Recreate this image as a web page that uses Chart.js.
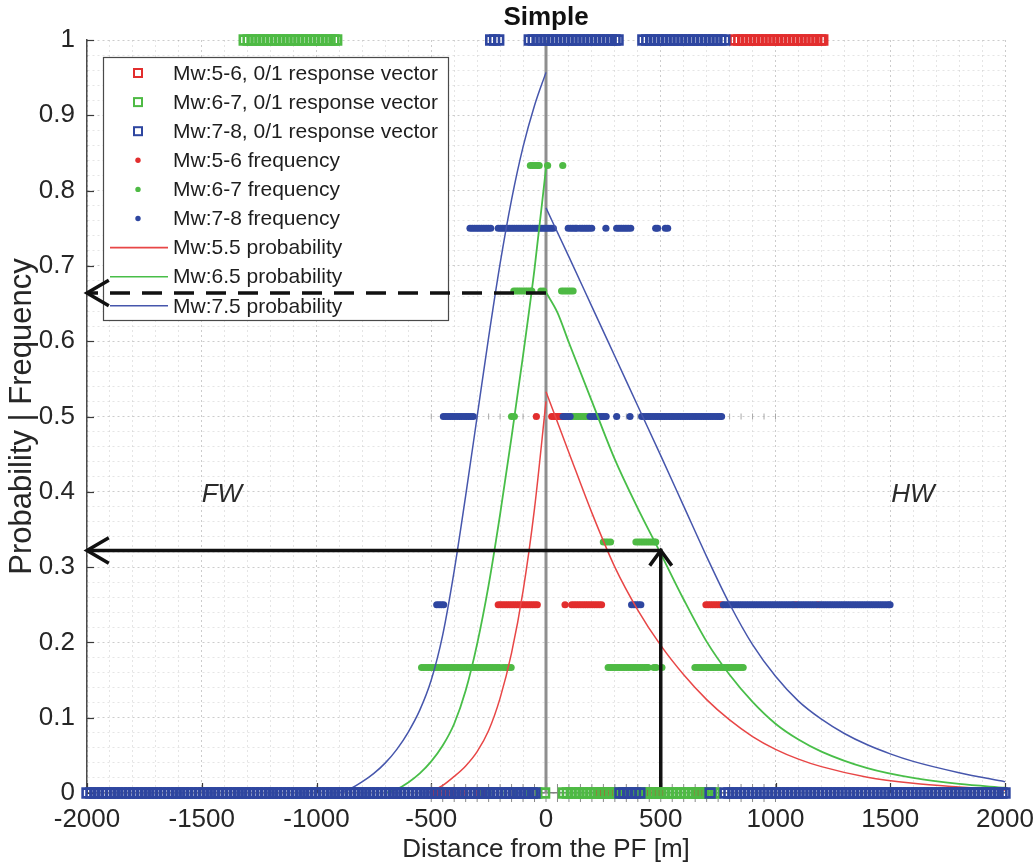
<!DOCTYPE html>
<html>
<head>
<meta charset="utf-8">
<title>Simple</title>
<script src="https://cdn.jsdelivr.net/npm/chart.js@4.4.1/dist/chart.umd.min.js"></script>
<style>
html,body{margin:0;padding:0;background:#fff;}
canvas{display:block;}
</style>
</head>
<body>
<canvas id="c" width="1035" height="865"></canvas>
<script>
// ---------------- DATA ----------------
const xTickValues = [-2000, -1500, -1000, -500, 0, 500, 1000, 1500, 2000];
const yTickValues = [0, 0.1, 0.2, 0.3, 0.4, 0.5, 0.6, 0.7, 0.8, 0.9, 1];

const legendLabels = [
  'Mw:5-6, 0/1 response vector',
  'Mw:6-7, 0/1 response vector',
  'Mw:7-8, 0/1 response vector',
  'Mw:5-6 frequency',
  'Mw:6-7 frequency',
  'Mw:7-8 frequency',
  'Mw:5.5 probability',
  'Mw:6.5 probability',
  'Mw:7.5 probability'
];

// probability curves, footwall (x<0) and hanging wall (x>0) branches
const fw55X = [-520, -500, -450, -400, -350, -300, -250, -200, -150, -100, -50, 0];
const fw55Y = [0, 0.002, 0.010, 0.022, 0.036, 0.055, 0.083, 0.126, 0.186, 0.268, 0.378, 0.520];
const fw65X = [-700, -650, -600, -550, -500, -450, -400, -350, -300, -250, -200, -150, -100, -50, 0];
const fw65Y = [0, 0.005, 0.014, 0.026, 0.042, 0.063, 0.092, 0.136, 0.198, 0.276, 0.370, 0.473, 0.581, 0.696, 0.830];
const fw75X = [-900, -850, -800, -750, -700, -650, -600, -550, -500, -450, -400, -350, -300, -250, -200, -150, -100, -50, 0];
const fw75Y = [0, 0.006, 0.015, 0.026, 0.040, 0.058, 0.081, 0.110, 0.150, 0.210, 0.295, 0.395, 0.500, 0.605, 0.703, 0.788, 0.858, 0.913, 0.957];

const hw55X = [0, 100, 200, 300, 400, 500, 600, 700, 800, 900, 1000, 1100, 1200, 1400, 1600, 1800, 2000];
const hw55Y = [0.533, 0.452, 0.372, 0.300, 0.243, 0.196, 0.157, 0.124, 0.097, 0.075, 0.058, 0.045, 0.035, 0.021, 0.013, 0.008, 0.004];
const hw65X = [0, 50, 100, 200, 300, 400, 500, 600, 700, 800, 900, 1000, 1100, 1200, 1400, 1600, 1800, 2000];
const hw65Y = [0.665, 0.638, 0.598, 0.520, 0.443, 0.378, 0.318, 0.257, 0.201, 0.157, 0.121, 0.092, 0.071, 0.055, 0.033, 0.020, 0.012, 0.007];
const hw75X = [0, 100, 200, 300, 400, 500, 600, 700, 800, 900, 1000, 1100, 1200, 1300, 1400, 1500, 1600, 1800, 2000];
const hw75Y = [0.777, 0.712, 0.646, 0.580, 0.514, 0.448, 0.381, 0.314, 0.251, 0.197, 0.155, 0.122, 0.098, 0.079, 0.064, 0.052, 0.042, 0.027, 0.015];

// 0/1 response vectors: distances of events with response 0 and response 1
const respRedZero = [-470, -453, -397, -380, -364, -347, -331, -288, -266, 243, 258, 272, 286, 322, 339, 356, 373, 390, 409, 460, 474, 488, 662, 675, 684];
const respRedOne = [823, 840, 857, 874, 891, 908, 925, 942, 959, 976, 993, 1010, 1027, 1044, 1061, 1078, 1095, 1112, 1129, 1146, 1163, 1180, 1197, 1206];
const respGreenZero = [-262, -230, -160, -110, -62, -40, -6, 76, 93, 110, 127, 144, 161, 178, 195, 212, 229, 246, 263, 280, 297, 314, 331, 348, 365, 382, 399, 416, 433, 450, 467, 484, 501, 518, 535, 552, 569, 586, 603, 620, 637, 654, 671, 688, 705, 722, 736];
const respGreenOne = [-1315, -1298, -1281, -1264, -1247, -1230, -1213, -1196, -1179, -1162, -1145, -1128, -1111, -1094, -1077, -1060, -1043, -1026, -1009, -992, -975, -958, -941, -924, -912];
const respBlueZero = [-2000, -1983, -1966, -1950, -1933, -1916, -1898, -1881, -1865, -1848, -1831, -1814, -1797, -1780, -1763, -1746, -1730, -1713, -1696, -1679, -1662, -1645, -1628, -1611, -1595, -1578, -1561, -1544, -1527, -1510, -1493, -1476, -1460, -1443, -1426, -1409, -1392, -1375, -1358, -1341, -1325, -1308, -1291, -1274, -1257, -1240, -1223, -1206, -1190, -1173, -1156, -1139, -1122, -1105, -1088, -1071, -1055, -1038, -1021, -1004, -987, -970, -953, -936, -920, -903, -886, -869, -852, -835, -818, -801, -785, -768, -751, -734, -717, -700, -683, -666, -650, -633, -616, -599, -582, -565, -548, -531, -515, -498, -481, -464, -447, -430, -413, -396, -380, -363, -346, -329, -312, -295, -278, -261, -245, -228, -211, -194, -177, -160, -143, -126, -110, -93, -76, -59, -48,
  322, 339, 356, 373, 390, 409, 715,
  780, 797, 814, 831, 848, 865, 882, 899, 916, 933, 950, 967, 984, 1001, 1018, 1035, 1052, 1069, 1086, 1103, 1120, 1137, 1154, 1171, 1188, 1205, 1222, 1239, 1256, 1273, 1290, 1307, 1324, 1341, 1358, 1375, 1392, 1409, 1426, 1443, 1460, 1477, 1494, 1511, 1528, 1545, 1562, 1579, 1596, 1613, 1630, 1647, 1664, 1681, 1698, 1715, 1732, 1749, 1766, 1783, 1800, 1817, 1834, 1851, 1868, 1885, 1902, 1919, 1936, 1953, 1970, 1987, 2000];
const respBlueOne = [-241, -224, -206, -73, -56, -39, -22, -5, 12, 29, 46, 63, 80, 97, 114, 131, 148, 165, 182, 199, 216, 233, 250, 267, 284, 301, 314, 422, 439, 456, 473, 490, 507, 524, 541, 558, 575, 592, 609, 626, 643, 660, 677, 694, 711, 728, 745, 762, 779];

// binned frequencies (distance of each bin member, per frequency level)
const redFreq050 = [-42, 25, 33, 41, 49, 57, 65, 73];
const redFreq025 = [-208, -198, -188, -178, -168, -158, -148, -138, -128, -118, -108, -98, -88, -78, -68, -58, -48, -38, 83, 112, 122, 132, 142, 152, 162, 172, 182, 192, 202, 212, 222, 232, 242, 697, 707, 717, 727, 737, 747, 757, 767, 1089, 1185];

const greenFreq083 = [-68, -58, -48, -38, -30, 7, 73];
const greenFreq067 = [-140, -130, -120, -110, -100, -90, -80, -70, -62, -22, -10, 68, 78, 88, 98, 108, 118];
const greenFreq050 = [-150, -138, 112, 122, 132, 142, 152, 162, 172, 182];
const greenFreq033 = [250, 260, 270, 281, 392, 402, 412, 422, 432, 442, 452, 462, 472, 478];
const greenFreq017 = [-542, -532, -522, -512, -502, -492, -482, -472, -462, -452, -442, -432, -422, -412, -402, -392, -382, -372, -362, -352, -342, -332, -322, -312, -302, -292, -282, -272, -262, -252, -242, -232, -222, -212, -202, -187, -175, -163, -152, 271, 281, 291, 301, 311, 321, 331, 341, 351, 361, 371, 381, 391, 401, 411, 421, 431, 439, 445, 470, 480, 505, 649, 659, 669, 679, 689, 699, 709, 719, 729, 739, 749, 759, 769, 779, 789, 799, 809, 819, 829, 839, 849, 859];

const blueFreq075 = [-331, -321, -311, -301, -291, -281, -271, -261, -251, -241, -208, -198, -188, -178, -168, -158, -148, -138, -128, -118, -108, -98, -88, -78, -68, -58, -48, -38, -28, -18, -8, 2, 12, 22, 32, 97, 107, 117, 127, 134, 148, 158, 168, 178, 188, 199, 261, 308, 318, 328, 338, 348, 358, 369, 478, 486, 520, 530];
const blueFreq050 = [-447, -437, -427, -417, -407, -397, -387, -377, -367, -357, -347, -337, -327, -317, 75, 85, 95, 105, 192, 202, 212, 222, 232, 242, 252, 262, 308, 366, 417, 427, 437, 447, 457, 467, 477, 487, 497, 507, 517, 527, 537, 547, 557, 567, 577, 587, 597, 607, 617, 627, 637, 647, 657, 667, 677, 687, 697, 707, 717, 727, 737, 747, 757, 765];
const blueFreq025 = [-476, -466, -456, -446, 373, 383, 393, 403, 413, 773, 783, 793, 803, 813, 823, 833, 843, 853, 863, 873, 883, 893, 903, 913, 923, 933, 943, 953, 963, 973, 983, 993, 1003, 1013, 1023, 1033, 1043, 1053, 1063, 1073, 1081, 1097, 1107, 1117, 1127, 1137, 1147, 1157, 1167, 1177, 1193, 1203, 1213, 1223, 1233, 1243, 1253, 1263, 1273, 1283, 1293, 1303, 1313, 1323, 1333, 1343, 1353, 1363, 1373, 1383, 1393, 1403, 1413, 1423, 1433, 1443, 1453, 1463, 1473, 1483, 1493, 1499];

// bin markers (light ticks) at frequency 0.5 and 0
const binTickX = [-500, -450, -400, -350, -300, -250, -200, -150, -100, -50, 0, 50, 100, 150, 200, 250, 300, 350, 400, 450, 500, 550, 600, 650, 700, 750, 800, 850, 900, 950, 1000];

// reading arrows: 0.664 at PF, and 0.322 at 500 m
const dashArrowX = [0, -2000];
const dashArrowY = [0.664, 0.664];
const solidArrowX = [500, 500, -2000];
const solidArrowY = [0, 0.322, 0.322];

// ---------------- STYLE ----------------
const FONT = '"Liberation Sans", Arial, Helvetica, sans-serif';
const RED = 'rgb(226,46,46)';
const GREEN = 'rgb(78,186,68)';
const BLUE = 'rgb(46,70,160)';
const RED_L = 'rgb(232,70,70)';
const GREEN_L = 'rgb(72,190,72)';
const BLUE_L = 'rgb(70,86,172)';
const TXT = '#262626';

Chart.defaults.font.family = FONT;
Chart.defaults.color = TXT;

const pts = (xs, y) => xs.map(x => ({x: x, y: y}));
const curve = (xs, ys) => xs.map((x, i) => ({x: x, y: ys[i]}));

function squares(zero, one, color, order) {
  return {
    data: pts(zero, 0).concat(pts(one, 1)),
    showLine: false, pointStyle: 'rect', pointRadius: 6.2, pointBorderWidth: 2.6,
    pointBorderColor: color, pointBackgroundColor: 'rgba(0,0,0,0)', clip: false, order: order
  };
}
function dots(rows, color, order) {
  let d = [];
  rows.forEach(r => { d = d.concat(pts(r[1], r[0])); });
  return {
    data: d, showLine: false, pointStyle: 'circle', pointRadius: 3.6, pointBorderWidth: 0,
    pointBackgroundColor: color, pointBorderColor: color, clip: false, order: order
  };
}
function line(xs, ys, color, width, order, extra) {
  return Object.assign({
    data: curve(xs, ys), showLine: true, pointRadius: 0, borderColor: color, borderWidth: width,
    fill: false, cubicInterpolationMode: 'monotone', order: order
  }, extra || {});
}
function chevron(tip, dx, dy) {
  // open arrow head around a tip point; dx, dy in data units
  return {
    data: [{x: tip.x + dx[0], y: tip.y + dy[0]}, {x: tip.x, y: tip.y}, {x: tip.x + dx[1], y: tip.y + dy[1]}],
    showLine: true, pointRadius: 0, borderColor: '#111', borderWidth: 3.5, tension: 0,
    borderJoinStyle: 'miter', clip: false, order: 3
  };
}

const datasets = [
  squares(respBlueZero, respBlueOne, BLUE, 0),
  squares(respGreenZero, respGreenOne, GREEN, 1),
  squares(respRedZero, respRedOne, RED, 2),
  line(dashArrowX, dashArrowY, '#111', 3.5, 3, {borderDash: [20, 12], tension: 0, cubicInterpolationMode: 'default', clip: false}),
  line(solidArrowX, solidArrowY, '#111', 3.5, 3, {tension: 0, cubicInterpolationMode: 'default', clip: false, borderJoinStyle: 'miter'}),
  chevron({x: dashArrowX[1], y: dashArrowY[1]}, [95, 95], [0.017, -0.017]),
  chevron({x: solidArrowX[2], y: solidArrowY[2]}, [95, 95], [0.017, -0.017]),
  chevron({x: solidArrowX[1], y: solidArrowY[1]}, [-48, 48], [-0.02, -0.02]),
  line(fw55X, fw55Y, RED_L, 1.5, 4),
  line(hw55X, hw55Y, RED_L, 1.5, 4),
  line(fw65X, fw65Y, GREEN_L, 1.8, 4),
  line(hw65X, hw65Y, GREEN_L, 1.8, 4),
  line(fw75X, fw75Y, BLUE_L, 1.5, 4),
  line(hw75X, hw75Y, BLUE_L, 1.5, 4),
  dots([[0.75, blueFreq075], [0.5, blueFreq050], [0.25, blueFreq025]], BLUE, 5),
  dots([[5 / 6, greenFreq083], [2 / 3, greenFreq067], [0.5, greenFreq050], [1 / 3, greenFreq033], [1 / 6, greenFreq017]], GREEN, 6),
  dots([[0.5, redFreq050], [0.25, redFreq025]], RED, 7),
  {data: pts(binTickX, 0.5), showLine: false, pointStyle: 'line', pointRotation: 90, pointRadius: 3,
   pointBorderWidth: 1, pointBorderColor: '#a8a8a8', order: 8},
  {data: pts(binTickX, 0), showLine: false, pointStyle: 'line', pointRotation: 90, pointRadius: 9,
   pointBorderWidth: 1, pointBorderColor: '#8a8a8a', clip: false, order: 8},
  {data: [{x: 0, y: 0}, {x: 0, y: 1}], showLine: true, pointRadius: 0, borderColor: '#8e8e8e',
   borderWidth: 3, tension: 0, order: 9}
];

const MAJOR = 'rgba(0,0,0,0.20)';
const MINOR = 'rgba(0,0,0,0.10)';

const overlay = {
  id: 'overlay',
  beforeDatasetsDraw(chart) {
    const {ctx, chartArea: a, scales: {x, y}} = chart;
    ctx.save();
    // inward tick marks
    ctx.strokeStyle = '#3a3a3a';
    ctx.lineWidth = 1.2;
    yTickValues.forEach(v => {
      const py = Math.round(y.getPixelForValue(v)) + 0.5;
      ctx.beginPath(); ctx.moveTo(a.left, py); ctx.lineTo(a.left + 7, py); ctx.stroke();
    });
    xTickValues.forEach(v => {
      const px = Math.round(x.getPixelForValue(v)) + 0.5;
      ctx.beginPath(); ctx.moveTo(px, a.bottom); ctx.lineTo(px, a.bottom - 10); ctx.stroke();
    });
    // legend box
    const L = {x: 103, y: 57, w: 345, h: 263};
    ctx.fillStyle = '#fff';
    ctx.fillRect(L.x, L.y, L.w, L.h);
    ctx.strokeStyle = '#4a4a4a';
    ctx.lineWidth = 1.2;
    ctx.strokeRect(L.x + 0.5, L.y + 0.5, L.w, L.h);
    ctx.font = '21px ' + FONT;
    ctx.textBaseline = 'middle';
    ctx.textAlign = 'left';
    const markCol = [RED, GREEN, BLUE];
    const lineCol = [RED_L, GREEN_L, BLUE_L];
    legendLabels.forEach((t, i) => {
      const cy = 73 + i * 29.1;
      const kind = Math.floor(i / 3);
      if (kind === 0) {
        ctx.strokeStyle = markCol[i % 3]; ctx.lineWidth = 2;
        ctx.strokeRect(134, cy - 4, 8, 8);
      } else if (kind === 1) {
        ctx.fillStyle = markCol[i % 3];
        ctx.beginPath(); ctx.arc(138, cy, 2.7, 0, Math.PI * 2); ctx.fill();
      } else {
        ctx.strokeStyle = lineCol[i % 3]; ctx.lineWidth = 1.6;
        ctx.beginPath(); ctx.moveTo(110, cy); ctx.lineTo(168, cy); ctx.stroke();
      }
      ctx.fillStyle = '#1e1e1e';
      ctx.fillText(t, 173, cy + 1);
    });
    ctx.restore();
  },
  afterDraw(chart) {
    const {ctx, chartArea: a, scales: {x, y}} = chart;
    ctx.save();
    ctx.fillStyle = '#111';
    ctx.textAlign = 'center';
    ctx.textBaseline = 'middle';
    ctx.font = 'bold 26px ' + FONT;
    ctx.fillText('Simple', (a.left + a.right) / 2, 18);
    ctx.fillStyle = '#2a2a2a';
    ctx.font = 'italic 26px ' + FONT;
    ctx.fillText('FW', x.getPixelForValue(-1412), y.getPixelForValue(0.396));
    ctx.fillText('HW', x.getPixelForValue(1599), y.getPixelForValue(0.396));
    ctx.restore();
  }
};

new Chart(document.getElementById('c'), {
  type: 'line',
  data: {datasets: datasets},
  plugins: [overlay],
  options: {
    responsive: false,
    animation: false,
    devicePixelRatio: 1,
    events: [],
    layout: {padding: {top: 40, right: 30, left: 0, bottom: 0}},
    plugins: {legend: {display: false}, tooltip: {enabled: false}, title: {display: false}},
    scales: {
      x: {
        type: 'linear', min: -2000, max: 2000,
        afterFit: s => { s.height = 72; s.paddingLeft = 0; s.paddingRight = 0; },
        ticks: {
          stepSize: 100, autoSkip: false, maxRotation: 0, minRotation: 0, padding: 11,
          font: {size: 26}, color: TXT,
          callback: v => (xTickValues.indexOf(Math.round(v)) >= 0 ? String(Math.round(v)) : '')
        },
        grid: {
          drawTicks: false, lineWidth: 1,
          color: c => (c.tick && xTickValues.indexOf(Math.round(c.tick.value)) >= 0 ? MAJOR : MINOR)
        },
        border: {display: true, color: '#808080', width: 1.5, dash: [2, 3]},
        title: {display: true, text: 'Distance from the PF [m]', font: {size: 26}, color: TXT, padding: {top: 0, bottom: 0}}
      },
      y: {
        type: 'linear', min: 0, max: 1,
        afterFit: s => { s.width = 87; s.paddingTop = 0; s.paddingBottom = 0; },
        ticks: {
          stepSize: 0.02, autoSkip: false, padding: 12, font: {size: 26}, color: TXT,
          callback: v => {
            const k = Math.round(v * 100);
            return k % 10 === 0 ? String(k / 100) : '';
          }
        },
        grid: {
          drawTicks: false, lineWidth: 1,
          color: c => (c.tick && Math.round(c.tick.value * 100) % 10 === 0 ? MAJOR : MINOR)
        },
        border: {display: true, color: '#4a4a4a', width: 1.5, dash: [2, 3]},
        title: {display: true, text: 'Probability | Frequency', font: {size: 31}, color: TXT, padding: {top: 4, bottom: 0}}
      }
    }
  }
});
</script>
</body>
</html>
